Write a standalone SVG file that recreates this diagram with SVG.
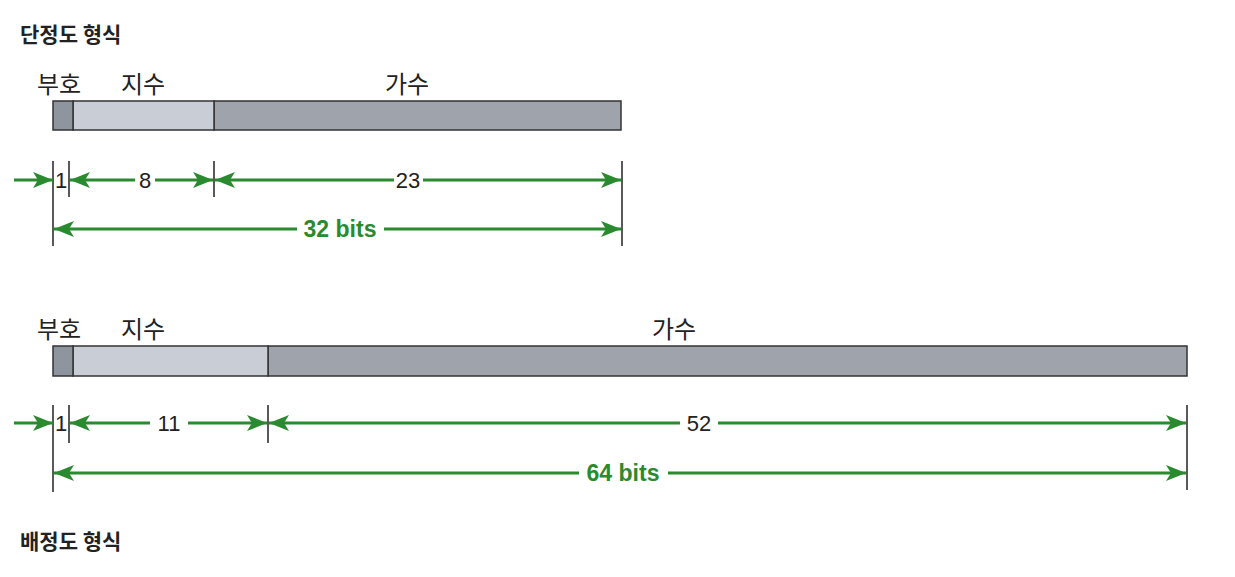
<svg xmlns="http://www.w3.org/2000/svg" width="1235" height="577" viewBox="0 0 1235 577">
<defs>
<marker id="ah" viewBox="0 0 20 16" refX="20" refY="8" markerWidth="20" markerHeight="16" markerUnits="userSpaceOnUse" orient="auto-start-reverse">
<path d="M0,0 L20,8 L0,16 L5,8 Z" fill="#2a8a2f"/>
</marker>
<style>
.title{font-family:"Noto Sans CJK KR","Noto Sans",sans-serif;font-size:21px;font-weight:bold;fill:#222}
.lbl{font-family:"Noto Sans CJK KR","Noto Sans",sans-serif;font-size:24px;fill:#222}
.num{font-family:"Liberation Sans",Arial,sans-serif;font-size:22px;fill:#222;text-anchor:middle}
.bits{font-family:"Liberation Sans",Arial,sans-serif;font-size:23px;font-weight:bold;fill:#2a8a2f;text-anchor:middle}
.sign{fill:#8f959e;stroke:#333;stroke-width:1.5}
.exp{fill:#c9cdd5;stroke:#333;stroke-width:1.5}
.man{fill:#9ea3ac;stroke:#333;stroke-width:1.5}
.tick{stroke:#222;stroke-width:1.5}
.dim{stroke:#2a8a2f;stroke-width:3;fill:none}
</style>
</defs>
<rect width="1235" height="577" fill="#ffffff"/>

<g id="title-single"><text class="title" x="20" y="42">단정도 형식</text></g>
<g id="title-double"><text class="title" x="20" y="549">배정도 형식</text></g>

<g id="single-bar">
<rect class="man" x="214" y="101" width="407" height="29"/>
<rect class="exp" x="73" y="101" width="141" height="29"/>
<rect class="sign" x="53" y="101" width="20" height="29"/>
<text class="lbl" x="37" y="93">부호</text>
<text class="lbl" x="121" y="93">지수</text>
<text class="lbl" x="385" y="93">가수</text>
</g>

<g id="double-bar">
<rect class="man" x="268" y="346" width="919" height="30"/>
<rect class="exp" x="73" y="346" width="195" height="30"/>
<rect class="sign" x="53" y="346" width="20" height="30"/>
<text class="lbl" x="37" y="338">부호</text>
<text class="lbl" x="121" y="338">지수</text>
<text class="lbl" x="652" y="338">가수</text>
</g>

<g id="connectors">
<line class="tick" x1="53" y1="161" x2="53" y2="246"/>
<line class="tick" x1="69" y1="161" x2="69" y2="197"/>
<line class="tick" x1="214" y1="161" x2="214" y2="197"/>
<line class="tick" x1="622" y1="161" x2="622" y2="246"/>
<line class="dim" x1="14" y1="180" x2="53" y2="180" marker-end="url(#ah)"/>
<line class="dim" x1="70" y1="180" x2="135" y2="180" marker-start="url(#ah)"/>
<line class="dim" x1="155" y1="180" x2="213" y2="180" marker-end="url(#ah)"/>
<line class="dim" x1="215" y1="180" x2="394" y2="180" marker-start="url(#ah)"/>
<line class="dim" x1="423" y1="180" x2="621" y2="180" marker-end="url(#ah)"/>
<line class="dim" x1="54" y1="229" x2="297" y2="229" marker-start="url(#ah)"/>
<line class="dim" x1="384" y1="229" x2="621" y2="229" marker-end="url(#ah)"/>

<line class="tick" x1="53" y1="405" x2="53" y2="492"/>
<line class="tick" x1="69" y1="405" x2="69" y2="443"/>
<line class="tick" x1="268" y1="405" x2="268" y2="443"/>
<line class="tick" x1="1187" y1="405" x2="1187" y2="490"/>
<line class="dim" x1="14" y1="423" x2="53" y2="423" marker-end="url(#ah)"/>
<line class="dim" x1="70" y1="423" x2="150" y2="423" marker-start="url(#ah)"/>
<line class="dim" x1="188" y1="423" x2="267" y2="423" marker-end="url(#ah)"/>
<line class="dim" x1="269" y1="423" x2="680" y2="423" marker-start="url(#ah)"/>
<line class="dim" x1="718" y1="423" x2="1186" y2="423" marker-end="url(#ah)"/>
<line class="dim" x1="54" y1="473" x2="579" y2="473" marker-start="url(#ah)"/>
<line class="dim" x1="668" y1="473" x2="1186" y2="473" marker-end="url(#ah)"/>
</g>

<g id="dim-labels">
<text class="num" x="61" y="188">1</text>
<text class="num" x="145" y="188">8</text>
<text class="num" x="408" y="188">23</text>
<text class="bits" x="340" y="237">32 bits</text>
<text class="num" x="61" y="431">1</text>
<text class="num" x="169" y="431">11</text>
<text class="num" x="699" y="431">52</text>
<text class="bits" x="623" y="481">64 bits</text>
</g>
</svg>
